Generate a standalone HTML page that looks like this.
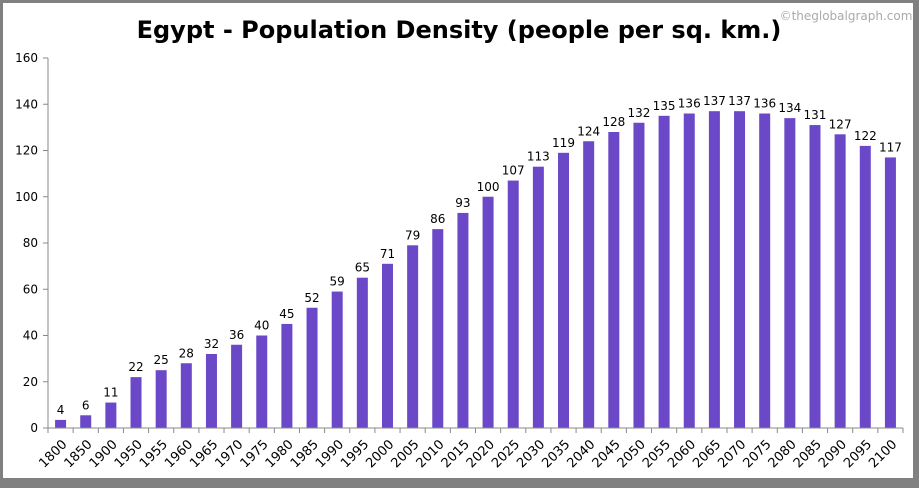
<!DOCTYPE html>
<html><head><meta charset="utf-8"><style>
body{margin:0;background:#808080;width:919px;height:484px;overflow:hidden;font-family:"DejaVu Sans","Liberation Sans",sans-serif}
</style></head><body>
<svg width="919" height="484" xmlns="http://www.w3.org/2000/svg">
<rect x="3" y="3" width="910" height="475" fill="#fff"/>
<text x="459" y="38" text-anchor="middle" font-size="24" font-weight="bold" fill="#000">Egypt - Population Density (people per sq. km.)</text>
<text x="846" y="20" text-anchor="middle" font-size="12" fill="#aaa">©theglobalgraph.com</text>
<g id="plot"></g>
</svg>
<script>
const categories=["1800","1850","1900","1950","1955","1960","1965","1970","1975","1980","1985","1990","1995","2000","2005","2010","2015","2020","2025","2030","2035","2040","2045","2050","2055","2060","2065","2070","2075","2080","2085","2090","2095","2100"];
const values=[3.5,5.5,11,22,25,28,32,36,40,45,52,59,65,71,79,86,93,100,107,113,119,124,128,132,135,136,137,137,136,134,131,127,122,117];
const labels=["4","6","11","22","25","28","32","36","40","45","52","59","65","71","79","86","93","100","107","113","119","124","128","132","135","136","137","137","136","134","131","127","122","117"];
const yTicks=[0,20,40,60,80,100,120,140,160];
const NS="http://www.w3.org/2000/svg";
const g=document.getElementById('plot');
const X0=48,X1=903,Y0=428,Y1=58,YMAX=160;
const band=(X1-X0)/categories.length;
const y=v=>Y0-(v/YMAX)*(Y0-Y1);
const x=i=>X0+band*(i+0.5);
function el(t,a){const e=document.createElementNS(NS,t);for(const k in a)e.setAttribute(k,a[k]);g.appendChild(e);return e;}
yTicks.forEach(t=>{
 const l=el('line',{x1:X0-5,x2:X0,y1:y(t),y2:y(t),stroke:'#888'});
 
 
 const tx=el('text',{x:X0-10,y:y(t)+4,'text-anchor':'end','font-size':12,fill:'#000'});
 tx.textContent=t;
 
 
});
categories.forEach((c,i)=>{
 const b=el('rect',{x:x(i)-5.5,y:y(values[i]),width:11,height:Y0-y(values[i]),fill:'#6a48c8'});
 
 
 const v=el('text',{x:x(i),y:y(values[i])-6,'text-anchor':'middle','font-size':12,fill:'#000'});
 v.textContent=labels[i];
 
 
 const tk=el('line',{x1:X0+band*i,x2:X0+band*i,y1:Y0,y2:Y0+5,stroke:'#888'});
 
 
 const ax=x(i)+7, ay=Y0+17;
 const xt=el('text',{x:ax,y:ay,'text-anchor':'end','font-size':13,fill:'#000',transform:`rotate(-45 ${ax} ${ay})`});
 xt.textContent=c;
 
 
});
const tk=el('line',{x1:X1,x2:X1,y1:Y0,y2:Y0+5,stroke:'#888'});


const ya=el('line',{x1:X0,x2:X0,y1:Y1,y2:Y0,stroke:'#888'});


const xa=el('line',{x1:X0,x2:X1,y1:Y0,y2:Y0,stroke:'#888'});


</script>
</body></html>
